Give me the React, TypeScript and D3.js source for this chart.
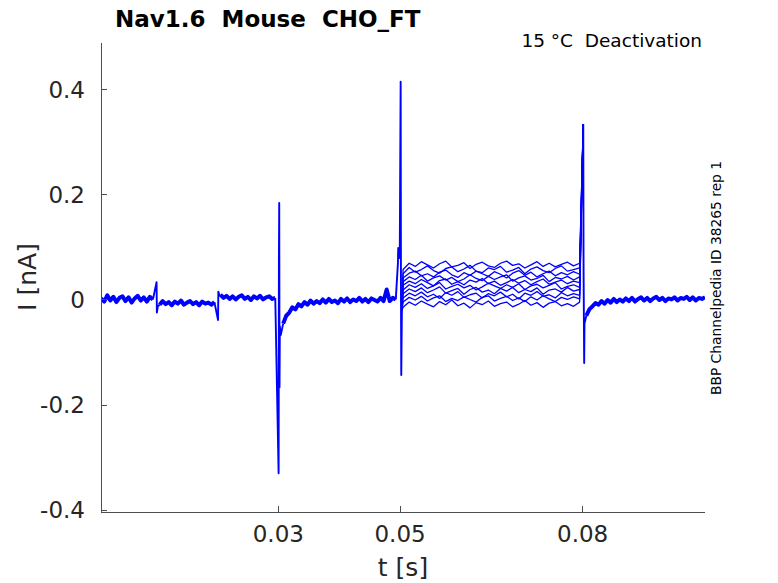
import React from 'react';
import * as d3 from 'd3';

const W = 778;
const H = 583;

// axis ticks
const xTicks = [0.03, 0.05, 0.08];
const yTicks = [-0.4, -0.2, 0, 0.2, 0.4];

// sampling of the traces (s)
const DT_BASE = 0.0005;
const DT_STEP = 0.001;

// holding current before the first pulse (nA), from t = 0.0009
const baseA = [0.003, -0.003, 0.009, -0.001, 0.006, -0.004, 0.004, 0.007, -0.002, 0.005, -0.005, 0.003, 0.008, -0.001, 0.005, -0.003, 0.006, 0.001];
const eventA: [number, number][] = [[0.01, 0.034], [0.01005, -0.024], [0.0102, -0.012]];
// from t = 0.0105
const baseB = [-0.009, -0.002, -0.008, -0.004, -0.010, -0.003, -0.007, -0.001, -0.009, -0.005, -0.002, -0.008, -0.004, -0.010, -0.003, -0.007, -0.005, -0.009, -0.004];
const eventB: [number, number][] = [[0.0201, -0.038], [0.02015, 0.016], [0.0203, 0.009]];
// from t = 0.0205
const baseC = [0.010, 0.004, 0.008, 0.002, 0.007, 0.001, 0.006, 0.009, 0.002, 0.006, 0.000, 0.007, 0.003, 0.008, 0.001, 0.005, 0.007, 0.002, 0.004];
const eventC: [number, number][] = [[0.03005, -0.33], [0.0301, 0.08], [0.03015, 0.185], [0.0302, -0.166], [0.03025, -0.05], [0.0304, -0.067]];
// tail current from t = 0.0308
const tailC = [-0.045, -0.030, -0.024, -0.014, -0.018, -0.008, -0.012, -0.004, -0.009, -0.001, -0.007, -0.002, -0.006, 0.001, -0.005, 0.002, -0.004, -0.001, -0.006, 0.002, -0.003, 0.003, -0.004, 0.001, -0.002, 0.004, -0.003, 0.002, -0.004, 0.003, 0.000, -0.003, 0.004, -0.002, 0.020, -0.002, 0.004, 0.001];
const eventD: [number, number][] = [[0.04965, 0.07], [0.0497, 0.099], [0.04985, 0.095], [0.04995, 0.08], [0.0501, 0.416], [0.05015, 0.03], [0.0502, -0.143], [0.0503, -0.02]];

// deactivation step currents, one row per sweep, from t = 0.0505
const steps = [
  [0.058, 0.070, 0.064, 0.073, 0.067, 0.061, 0.069, 0.074, 0.063, 0.066, 0.071, 0.060, 0.068, 0.072, 0.065, 0.062, 0.070, 0.074, 0.066, 0.069, 0.061, 0.067, 0.073, 0.064, 0.070, 0.063, 0.068, 0.072, 0.065, 0.070],
  [0.050, 0.062, 0.053, 0.058, 0.065, 0.056, 0.051, 0.060, 0.063, 0.054, 0.059, 0.066, 0.055, 0.052, 0.061, 0.058, 0.064, 0.053, 0.057, 0.062, 0.050, 0.059, 0.063, 0.056, 0.052, 0.060, 0.065, 0.055, 0.058, 0.061],
  [0.042, 0.051, 0.055, 0.046, 0.050, 0.044, 0.053, 0.057, 0.048, 0.043, 0.052, 0.047, 0.055, 0.050, 0.045, 0.054, 0.049, 0.042, 0.051, 0.056, 0.047, 0.053, 0.044, 0.050, 0.055, 0.046, 0.052, 0.048, 0.054, 0.049],
  [0.035, 0.044, 0.039, 0.047, 0.036, 0.042, 0.046, 0.038, 0.043, 0.035, 0.040, 0.048, 0.041, 0.037, 0.045, 0.039, 0.044, 0.048, 0.036, 0.042, 0.046, 0.038, 0.041, 0.047, 0.035, 0.043, 0.040, 0.045, 0.038, 0.044],
  [0.028, 0.036, 0.031, 0.039, 0.033, 0.027, 0.037, 0.040, 0.030, 0.035, 0.029, 0.038, 0.034, 0.041, 0.031, 0.036, 0.028, 0.033, 0.039, 0.032, 0.037, 0.029, 0.035, 0.040, 0.030, 0.034, 0.038, 0.031, 0.036, 0.033],
  [0.019, 0.029, 0.024, 0.031, 0.022, 0.027, 0.033, 0.021, 0.026, 0.030, 0.023, 0.028, 0.019, 0.025, 0.032, 0.027, 0.022, 0.029, 0.024, 0.031, 0.020, 0.027, 0.030, 0.023, 0.028, 0.033, 0.021, 0.026, 0.029, 0.024],
  [0.012, 0.021, 0.016, 0.023, 0.014, 0.019, 0.025, 0.013, 0.018, 0.022, 0.011, 0.020, 0.024, 0.015, 0.019, 0.012, 0.022, 0.017, 0.024, 0.014, 0.020, 0.016, 0.023, 0.011, 0.019, 0.021, 0.015, 0.024, 0.017, 0.020],
  [0.004, 0.013, 0.008, 0.015, 0.006, 0.011, 0.003, 0.014, 0.009, 0.016, 0.005, 0.010, 0.013, 0.004, 0.012, 0.008, 0.015, 0.006, 0.011, 0.002, 0.013, 0.009, 0.016, 0.007, 0.010, 0.004, 0.014, 0.008, 0.012, 0.009],
  [-0.004, 0.005, 0.000, 0.007, -0.002, 0.004, 0.008, -0.003, 0.003, -0.001, 0.006, 0.001, -0.004, 0.005, 0.008, -0.002, 0.003, 0.007, -0.001, 0.004, -0.003, 0.006, 0.000, 0.008, 0.002, -0.003, 0.005, 0.001, 0.006, 0.002],
  [-0.014, -0.004, -0.010, -0.002, -0.008, -0.013, -0.003, -0.009, 0.000, -0.011, -0.006, -0.015, -0.005, -0.009, -0.002, -0.012, -0.007, -0.004, -0.013, -0.008, -0.001, -0.010, -0.005, -0.014, -0.006, -0.003, -0.011, -0.007, -0.012, -0.004],
];

const eventE: [number, number][] = [[0.0801, 0.335], [0.08015, 0.06], [0.08025, -0.12], [0.0803, -0.045]];
// after the step, from t = 0.0806
const tailE = [-0.030, -0.018, -0.012, -0.006, -0.009, -0.002, -0.007, 0.000, -0.005, 0.002, -0.004, 0.001, -0.003, 0.003, -0.002, 0.004, -0.003, 0.002, 0.005, -0.001, 0.004, -0.002, 0.003, 0.006, 0.000, 0.004, -0.002, 0.003, 0.001, 0.005, -0.001, 0.004, 0.002, 0.006, 0.000, 0.005, -0.001, 0.004, 0.002, 0.005];

type Pt = [number, number];
const sampled = (t0: number, dt: number, v: number[]): Pt[] => v.map((c, i) => [t0 + i * dt, c]);

// noisy holding pieces (drawn thick, as the sweeps pile up there) and the fast transients between them
const hA = sampled(0.0009, DT_BASE, baseA);
const hB = sampled(0.0105, DT_BASE, baseB);
const hC = sampled(0.0205, DT_BASE, baseC);
const hD = sampled(0.0308, DT_BASE, tailC);
const hE = sampled(0.0806, DT_BASE, tailE);
const holding: Pt[][] = [hA, hB, hC, hD, hE];
const last = (p: Pt[]) => p[p.length - 1];
const transients: Pt[][] = [
  [last(hA), ...eventA, hB[0]],
  [last(hB), ...eventB, hC[0]],
  [last(hC), ...eventC, hD[0]],
  [last(hD), ...eventD],
  [...eventE, hE[0]],
];
// step part of each sweep, from the end of the 0.05 s transient to the start of the 0.08 s one
const sweeps = steps.map(s => [last(eventD), ...sampled(0.0505, DT_STEP, s), eventE[0]]);

const FONT = '"DejaVu Sans", sans-serif';

const App: React.FC = () => {
  const x = d3.scaleLinear().domain([0.00087, 0.1001]).range([101, 705]);
  const y = d3.scaleLinear().domain([-0.4038, 0.4895]).range([512, 43]);
  const line = d3.line<Pt>().x(d => x(d[0])).y(d => y(d[1]));
  const [x0, x1] = x.range();
  const [y0, y1] = y.range();

  return (
    <div style={{ position: 'absolute', left: 0, top: 0 }}>
      <svg width={W} height={H} style={{ display: 'block', background: '#fff' }}>
        <defs>
          <clipPath id="plot">
            <rect x={x0} y={y1} width={x1 - x0} height={y0 - y1} />
          </clipPath>
        </defs>

        <g clipPath="url(#plot)" fill="none" stroke="#0000ff" strokeLinejoin="round">
          {holding.map((p, i) => <path key={'h' + i} d={line(p) ?? ''} strokeWidth={4} />)}
          {transients.map((p, i) => <path key={'t' + i} d={line(p) ?? ''} strokeWidth={1.9} />)}
          {sweeps.map((s, i) => <path key={'s' + i} d={line(s) ?? ''} strokeWidth={1.3} />)}
        </g>

        {/* axes */}
        <g stroke="#4d4d4d" strokeWidth={1} fill="none" shapeRendering="crispEdges">
          <line x1={x0} x2={x0} y1={y1} y2={y0} />
          <line x1={x0} x2={x1} y1={y0} y2={y0} />
          {xTicks.map(t => <line key={t} x1={x(t)} x2={x(t)} y1={y0} y2={y0 - 6} />)}
          {yTicks.map(t => <line key={t} x1={x0} x2={x0 + 6} y1={y(t)} y2={y(t)} />)}
        </g>

        <g fontFamily={FONT} fontSize={23} fill="#262626">
          {xTicks.map(t => (
            <text key={t} x={x(t)} y={542} textAnchor="middle">{String(t)}</text>
          ))}
          {yTicks.map(t => (
            <text key={t} x={85} y={y(t) + 8} textAnchor="end">{String(t)}</text>
          ))}
        </g>

        <text x={403} y={576} textAnchor="middle" fontFamily={FONT} fontSize={25} fill="#262626">t [s]</text>
        <text transform="translate(36,277) rotate(-90)" textAnchor="middle" fontFamily={FONT} fontSize={25} fill="#262626">I [nA]</text>

        <text x={115} y={27} fontFamily={FONT} fontSize={23} fontWeight="bold" fill="#000" style={{ whiteSpace: 'pre' }}>
          Nav1.6  Mouse  CHO_FT
        </text>
        <text x={702} y={47} textAnchor="end" fontFamily={FONT} fontSize={18.5} fill="#000" style={{ whiteSpace: 'pre' }}>
          15 °C  Deactivation
        </text>
        <text transform="translate(721,278) rotate(-90)" textAnchor="middle" fontFamily={FONT} fontSize={13.8} fill="#000">
          BBP Channelpedia ID 38265 rep 1
        </text>
      </svg>
    </div>
  );
};

export default App;
